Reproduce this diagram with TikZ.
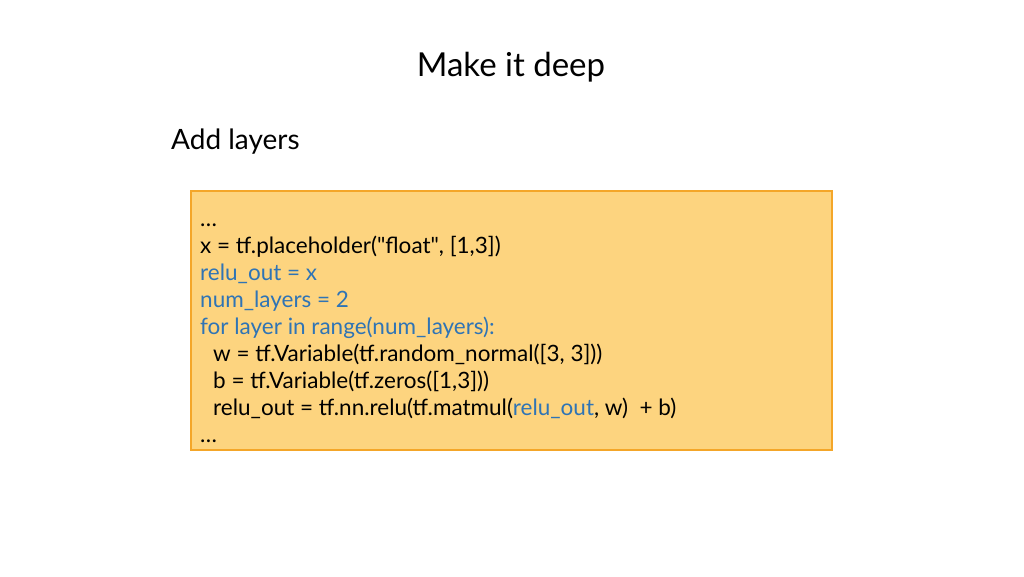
\documentclass[tikz,border=0pt]{standalone}
\usepackage{fontspec}
\setmainfont{Lato}
\newcommand\straightquote{\XeTeXglyph\XeTeXcharglyph"22\relax}
\definecolor{boxfill}{HTML}{FDD47F}
\definecolor{boxline}{HTML}{F4A629}
\definecolor{codeblue}{HTML}{2F74B5}
\tikzset{codeline/.style={anchor=base west,inner sep=0pt,font=\fontsize{22.5}{26}\selectfont}}
\begin{document}
\begin{tikzpicture}[x=1pt,y=-1pt]
\useasboundingbox (0,0) rectangle (1024,576);
\node[anchor=base,inner sep=0pt,font=\fontsize{33}{40}\selectfont] (title) at (511,76) {Make it deep};
\node[anchor=base west,inner sep=0pt,font=\fontsize{28}{34}\selectfont] (sub) at (171,149) {Add layers};
\draw[boxline,fill=boxfill,line width=1.5pt] (191,191) rectangle (832,450);
\node[codeline] (l0) at (200,226) {…};
\node[codeline] (l1) at (200,253) {x = tf.placeholder(\straightquote float\straightquote, [1,3])};
\node[codeline,codeblue] (l2) at (200,280) {relu\_out = x};
\node[codeline,codeblue] (l3) at (200,307) {num\_layers = 2};
\node[codeline,codeblue] (l4) at (200,334) {for layer in range(num\_layers):};
\node[codeline] (l5) at (213,361) {w = tf.Variable(tf.random\_normal([3, 3]))};
\node[codeline] (l6) at (213,388) {b = tf.Variable(tf.zeros([1,3]))};
\node[codeline] (l7) at (213,415) {relu\_out = tf.nn.relu(tf.matmul({\color{codeblue}relu\_out}, w) \ + b)};
\node[codeline] (l8) at (200,442) {…};
\end{tikzpicture}
\end{document}
